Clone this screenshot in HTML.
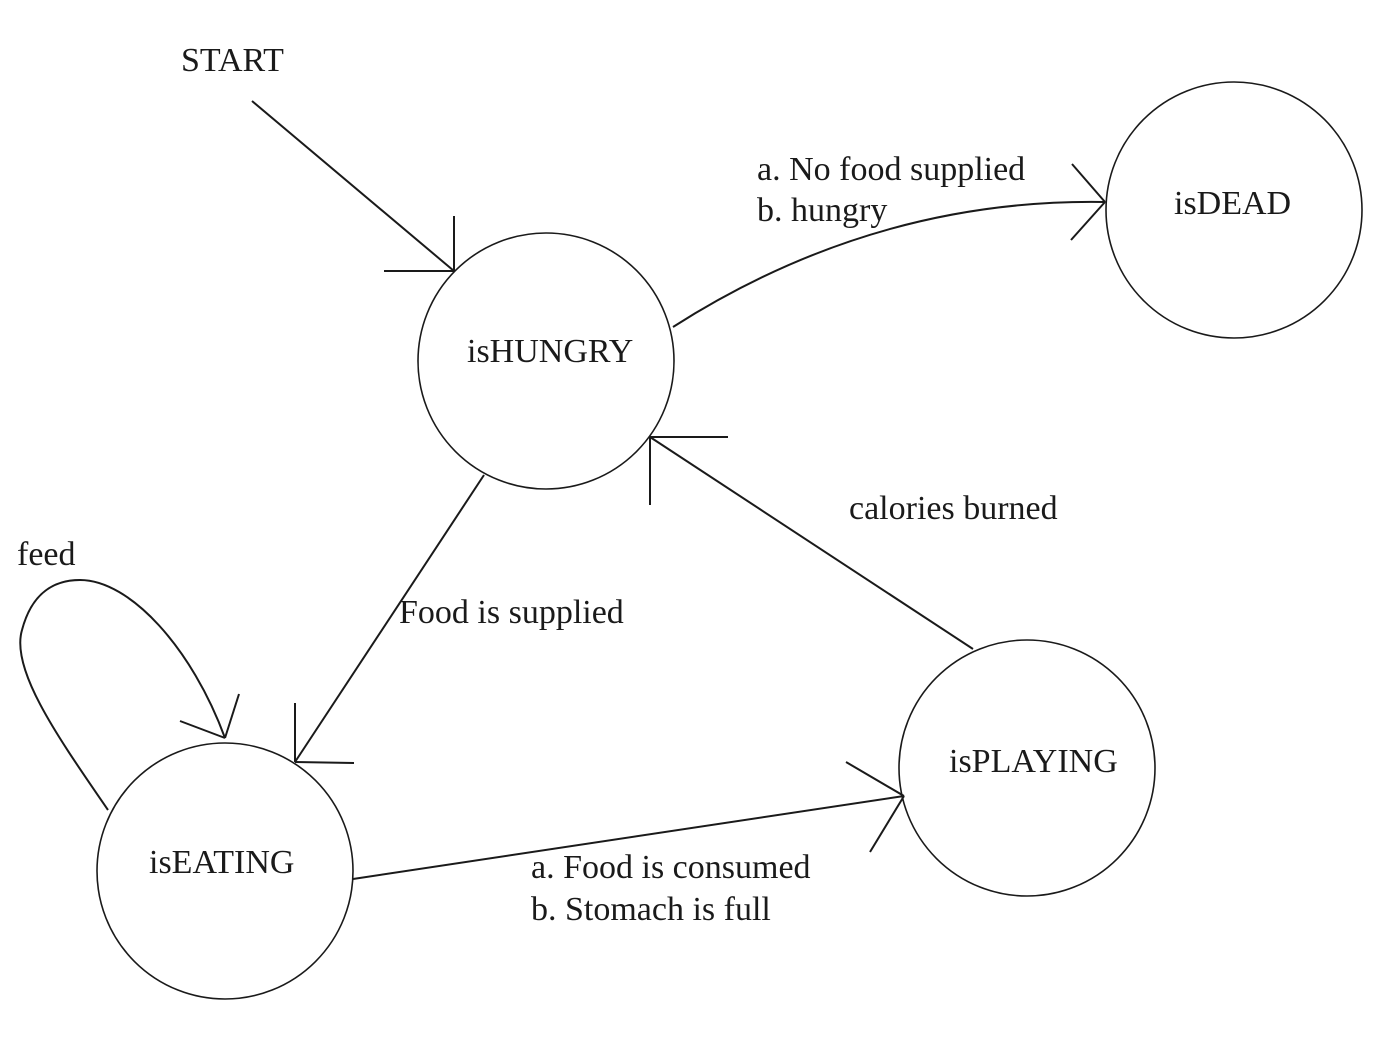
<!DOCTYPE html>
<html>
<head>
<meta charset="utf-8">
<style>
html,body{margin:0;padding:0;background:#fff;}
svg{display:block;}
text{font-family:"Liberation Serif",serif;font-size:34px;fill:#1a1a1a;}
</style>
</head>
<body>
<svg width="1388" height="1054" viewBox="0 0 1388 1054" xmlns="http://www.w3.org/2000/svg">
<rect width="1388" height="1054" fill="#fff"/>
<g fill="none" stroke="#1a1a1a" stroke-width="1.6">
  <circle cx="546" cy="361" r="128"/>
  <circle cx="1234" cy="210" r="128"/>
  <circle cx="225" cy="871" r="128"/>
  <circle cx="1027" cy="768" r="128"/>
</g>
<g fill="none" stroke="#1a1a1a" stroke-width="2">
  <!-- START arrow -->
  <line x1="252" y1="101" x2="454" y2="271"/>
  <line x1="454" y1="271" x2="454" y2="216"/>
  <line x1="454" y1="271" x2="384" y2="271"/>
  <!-- HUNGRY -> DEAD -->
  <path d="M673,327 Q875,198 1105,202"/>
  <line x1="1105" y1="202" x2="1072" y2="164"/>
  <line x1="1105" y1="202" x2="1071" y2="240"/>
  <!-- HUNGRY -> EATING -->
  <line x1="484" y1="475" x2="295" y2="762"/>
  <line x1="295" y1="762" x2="295" y2="703"/>
  <line x1="295" y1="762" x2="354" y2="763"/>
  <!-- feed loop -->
  <path d="M108,810 C60,740 10,670 22,630 C32,592 55,580 80,580 C130,580 192,648 225,738"/>
  <line x1="225" y1="738" x2="180" y2="721"/>
  <line x1="225" y1="738" x2="239" y2="694"/>
  <!-- EATING -> PLAYING -->
  <line x1="353" y1="879" x2="904" y2="796"/>
  <line x1="904" y1="796" x2="846" y2="762"/>
  <line x1="904" y1="796" x2="870" y2="852"/>
  <!-- PLAYING -> HUNGRY -->
  <line x1="973" y1="649" x2="650" y2="437"/>
  <line x1="650" y1="437" x2="728" y2="437"/>
  <line x1="650" y1="437" x2="650" y2="505"/>
</g>
<text x="181" y="71">START</text>
<text x="467" y="362">isHUNGRY</text>
<text x="1174" y="214">isDEAD</text>
<text x="149" y="873">isEATING</text>
<text x="949" y="772">isPLAYING</text>
<text x="757" y="180">a. No food supplied</text>
<text x="757" y="221">b. hungry</text>
<text x="849" y="519">calories burned</text>
<text x="17" y="565">feed</text>
<text x="399" y="623">Food is supplied</text>
<text x="531" y="878">a. Food is consumed</text>
<text x="531" y="920">b. Stomach is full</text>
</svg>
</body>
</html>
